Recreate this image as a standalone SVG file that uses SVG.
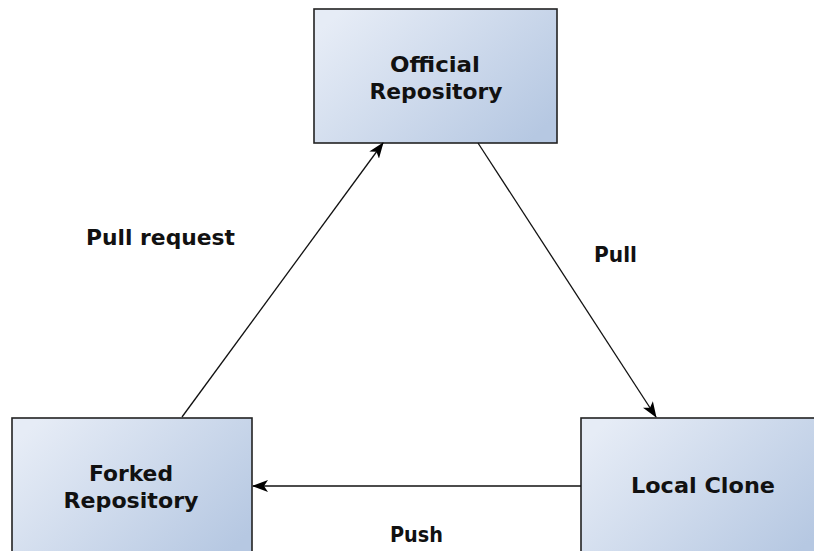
<svg xmlns="http://www.w3.org/2000/svg" width="814" height="551" viewBox="0 0 814 551">
<defs>
<linearGradient id="g" x1="0" y1="0.2" x2="1" y2="0.8">
<stop offset="0" stop-color="#e6ecf6"/>
<stop offset="1" stop-color="#b6c8e2"/>
</linearGradient>
<marker id="ah" viewBox="0 0 16 12" refX="15" refY="6" markerWidth="16" markerHeight="12" markerUnits="userSpaceOnUse" orient="auto">
<path d="M0,0 L16,6 L0,12 L4,6 Z" fill="#000"/>
</marker>
<style>
.box{fill:url(#g);stroke:#222;stroke-width:1.6}
.t{font-family:"DejaVu Sans","Liberation Sans",sans-serif;font-weight:bold;font-size:22px;fill:#111}
.c{stroke:#111;stroke-width:1.3;fill:none;marker-end:url(#ah)}
</style>
</defs>
<rect width="814" height="551" fill="#fff"/>
<g id="official">
<rect class="box" x="314" y="9" width="243" height="134"/>
<text class="t" x="435" y="72" text-anchor="middle" textLength="90" lengthAdjust="spacingAndGlyphs">Official</text>
<text class="t" x="436" y="99" text-anchor="middle" textLength="133" lengthAdjust="spacingAndGlyphs">Repository</text>
</g>
<g id="forked">
<rect class="box" x="12" y="418" width="240" height="140"/>
<text class="t" x="131" y="481" text-anchor="middle" textLength="84" lengthAdjust="spacingAndGlyphs">Forked</text>
<text class="t" x="131" y="508" text-anchor="middle" textLength="135" lengthAdjust="spacingAndGlyphs">Repository</text>
</g>
<g id="local">
<rect class="box" x="581" y="418" width="240" height="140"/>
<text class="t" x="703" y="493" text-anchor="middle" textLength="144" lengthAdjust="spacingAndGlyphs">Local Clone</text>
</g>
<g id="connectors">
<line class="c" x1="182" y1="417" x2="383" y2="143"/>
<line class="c" x1="478" y1="143" x2="656" y2="417"/>
<line class="c" x1="581" y1="486" x2="253" y2="486"/>
</g>
<g id="labels">
<text class="t" x="86" y="245" textLength="149" lengthAdjust="spacingAndGlyphs">Pull request</text>
<text class="t" x="594" y="262" textLength="43" lengthAdjust="spacingAndGlyphs">Pull</text>
<text class="t" x="390" y="542" textLength="53" lengthAdjust="spacingAndGlyphs">Push</text>
</g>
</svg>
